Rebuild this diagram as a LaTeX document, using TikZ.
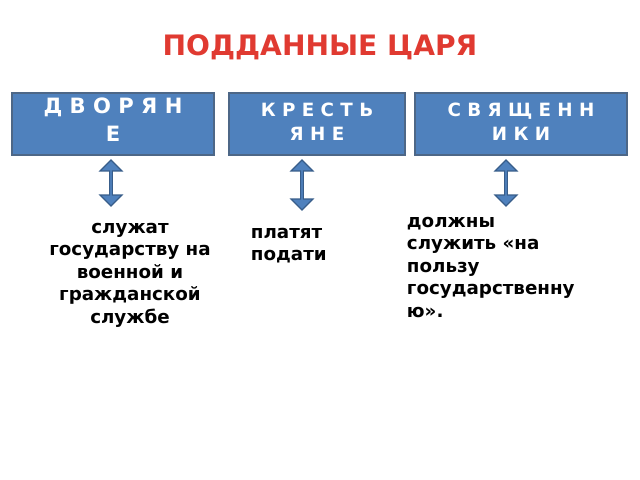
\documentclass[tikz,border=0pt]{standalone}
\usepackage{fontspec}
\setmainfont{DejaVu Sans}
\usetikzlibrary{shapes.arrows}
\definecolor{boxblue}{HTML}{4F81BD}
\definecolor{boxline}{HTML}{385D8A}
\definecolor{titlered}{HTML}{E03A31}
\tikzset{
    estate/.style={
           rectangle,
           draw=boxline!70!gray, thick,
           fill=boxblue,
           text=white,
           minimum height=1.55cm,
           font=\bfseries\fontsize{14pt}{15pt}\selectfont,
           align=center,
           },
    updown/.style={
           double arrow, rotate=90,
           draw=boxline, thick, fill=boxblue,
           double arrow head extend=0.1cm,
           minimum width=0.55cm,
           inner sep=0pt,
           },
    duty/.style={font=\bfseries\fontsize{13pt}{16pt}\selectfont},
}
\begin{document}
\begin{tikzpicture}[x=0.025cm,y=-0.025cm]
\useasboundingbox (0,0) rectangle (640,480);

\node[text=titlered,font=\bfseries\fontsize{20pt}{22pt}\selectfont] (TITLE) at (320,47) {ПОДДАННЫЕ ЦАРЯ};

% estates
\node[estate,minimum width=5.05cm] (DVORIANE) at (113,124) {};
\node[anchor=north,text=white,align=center,font=\bfseries\fontsize{15pt}{20pt}\selectfont] at (113,93) {Д В О Р Я Н\\Е};
\node[estate,minimum width=4.4cm] (KRESTIANE) at (317,124) {};
\node[anchor=north,text=white,align=center,font=\bfseries\fontsize{13pt}{17pt}\selectfont] at (317,98) {К Р Е С Т Ь\\Я Н Е};
\node[estate,minimum width=5.3cm] (SVIASHCH) at (521,124) {};
\node[anchor=north,text=white,align=center,font=\bfseries\fontsize{13pt}{17pt}\selectfont] at (521,98) {С В Я Щ Е Н Н\\И К И};

% arrows
\node[updown,minimum height=1.15cm] (ARROWONE) at (111,183) {};
\node[updown,minimum height=1.25cm] (ARROWTWO) at (302,185) {};
\node[updown,minimum height=1.15cm] (ARROWTHREE) at (506,183) {};

% duties
\node[duty,align=center] (SERVE) at (130,275) {служат\\государству на\\военной и\\гражданской\\службе};
\node[duty,align=left,anchor=north west] (TAX) at (246,223) {платят\\подати};
\node[duty,align=left,anchor=north west] (CHURCH) at (402,212) {должны\\служить «на\\пользу\\государственну\\ю».};
\end{tikzpicture}
\end{document}
